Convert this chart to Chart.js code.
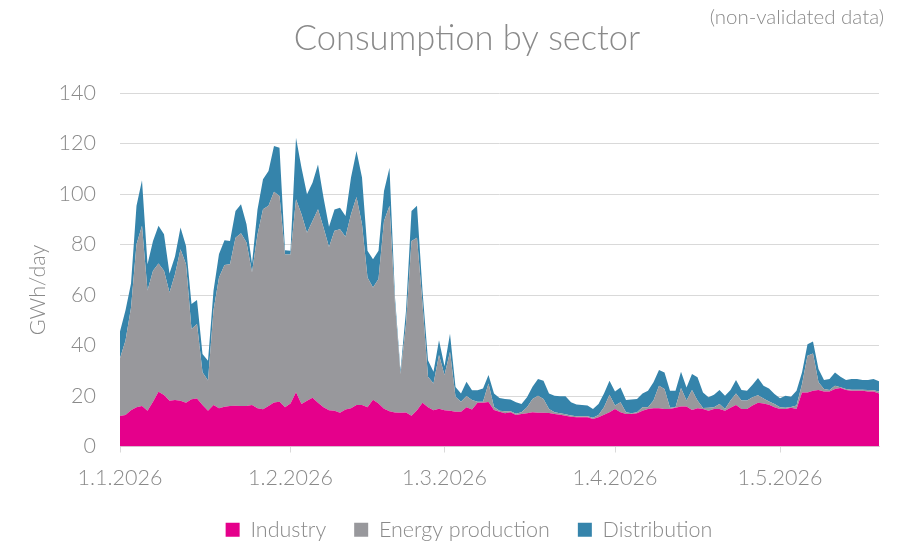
<!DOCTYPE html>
<html lang="en">
<head>
    <meta charset="UTF-8">
    <title>Consumption by sector</title>
    <style>
        html, body { margin: 0; padding: 0; background: #ffffff; }
        #wrap { width: 909px; height: 543px; }
    </style>
    <script src="https://cdn.jsdelivr.net/npm/chart.js"></script>
</head>
<body>
    <div id="wrap"><canvas id="myChart" width="909" height="543"></canvas></div>

    <script>
        // daily values in GWh/day, 1.1.2026 - 19.5.2026
        const industry = [
            12.1, 12.5, 14.4, 15.5, 16.0, 14.2, 17.7, 21.7, 20.4, 18.1,
            18.4, 18.1, 17.3, 18.7, 19.0, 16.4, 14.2, 16.4, 15.1, 15.7,
            16.0, 16.1, 16.0, 16.0, 16.4, 15.1, 14.8, 16.0, 17.4, 17.7,
            15.5, 17.0, 21.5, 16.8, 18.1, 19.3, 17.3, 15.5, 14.4, 14.2,
            13.4, 14.7, 15.1, 16.4, 16.4, 15.5, 18.5, 17.0, 15.0, 14.0,
            13.5, 13.4, 13.5, 12.2, 14.4, 17.3, 15.5, 14.4, 15.0, 14.4,
            14.2, 13.8, 13.8, 15.5, 14.7, 17.3, 17.3, 17.6, 14.5, 13.8,
            13.2, 13.6, 12.5, 12.9, 13.2, 13.6, 13.4, 13.4, 13.3, 12.9,
            12.6, 12.2, 11.8, 11.6, 11.6, 11.6, 10.9, 11.6, 12.6, 13.6,
            14.9, 13.6, 12.9, 12.9, 13.2, 14.2, 14.9, 15.1, 15.1, 14.9,
            14.9, 15.3, 15.8, 15.8, 14.5, 15.1, 14.9, 14.2, 14.9, 14.9,
            14.2, 15.3, 16.4, 14.9, 14.9, 16.2, 17.3, 17.0, 16.5, 15.5,
            14.9, 14.9, 15.3, 14.9, 21.4, 21.4, 22.1, 22.4, 21.8, 21.8,
            22.8, 23.2, 22.4, 22.1, 22.1, 22.1, 21.8, 21.8, 21.0
        ];
        const energyProduction = [
            22.9, 29.5, 40.6, 64.6, 71.4, 47.6, 51.9, 50.8, 49.2, 42.9,
            49.8, 60.0, 54.9, 27.8, 29.5, 13.0, 11.9, 37.6, 51.8, 56.2,
            56.2, 66.6, 68.5, 64.8, 52.6, 68.9, 79.2, 79.3, 83.5, 81.5,
            60.5, 59.0, 76.4, 75.2, 66.6, 70.0, 76.7, 71.2, 64.6, 71.2,
            72.6, 68.4, 76.9, 82.4, 71.6, 51.4, 44.5, 49.3, 74.3, 81.3,
            42.9, 15.3, 35.0, 69.2, 68.3, 39.1, 12.1, 10.6, 21.2, 13.9,
            23.3, 5.9, 3.9, 4.5, 3.7, 0.4, 0.4, 7.4, 1.1, 0.4,
            0.8, 0.4, 0.5, 0.7, 2.3, 5.2, 6.7, 5.4, 1.6, 0.7,
            0.6, 0.6, 0.5, 0.4, 0.4, 0.4, 0.5, 0.9, 2.9, 6.9,
            1.3, 3.9, 0.7, 0.3, 0.4, 1.3, 0.6, 3.1, 9.0, 7.9,
            0.4, 0.2, 7.4, 2.4, 7.9, 3.1, 0.3, 1.1, 0.6, 1.9,
            0.7, 2.9, 4.6, 3.3, 3.3, 3.3, 3.0, 2.0, 1.3, 1.3,
            0.6, 0.4, 0.3, 1.3, 3.3, 14.5, 14.7, 3.0, 1.0, 0.6,
            1.3, 0.3, 0.4, 0.4, 0.4, 0.4, 0.6, 0.5, 0.8
        ];
        const distribution = [
            10.5, 12.0, 9.6, 15.2, 18.0, 10.4, 11.8, 14.9, 14.5, 7.5,
            7.0, 8.6, 7.2, 9.9, 9.5, 7.2, 7.9, 7.7, 9.3, 9.8,
            9.2, 10.6, 11.4, 7.2, 3.5, 9.9, 11.8, 13.8, 18.1, 19.1,
            1.7, 1.5, 24.4, 18.4, 15.2, 15.2, 17.7, 11.9, 8.0, 8.5,
            8.6, 8.2, 14.5, 18.2, 18.5, 10.6, 11.2, 11.2, 11.9, 15.1,
            2.6, 1.3, 5.3, 11.9, 12.6, 5.3, 6.6, 4.6, 5.9, 3.5,
            7.2, 3.9, 3.3, 5.6, 3.9, 4.6, 5.3, 3.3, 5.4, 5.0,
            4.8, 4.6, 4.5, 3.2, 4.0, 4.9, 6.6, 7.2, 6.1, 6.5,
            6.7, 7.1, 5.2, 4.6, 4.4, 4.2, 3.5, 4.3, 5.5, 5.5,
            5.6, 5.9, 4.8, 5.4, 5.2, 5.5, 6.6, 7.2, 6.2, 6.5,
            6.8, 6.6, 6.4, 5.2, 6.3, 9.2, 6.2, 4.2, 5.0, 5.6,
            5.2, 4.2, 5.3, 4.2, 3.9, 5.0, 6.8, 5.1, 5.2, 4.0,
            3.6, 4.8, 4.1, 5.9, 4.6, 4.6, 4.8, 5.3, 3.5, 4.3,
            5.2, 4.1, 3.5, 4.2, 4.2, 3.8, 3.9, 4.4, 4.0
        ];

        const tickLabels = ['1.1.2026', '1.2.2026', '1.3.2026', '1.4.2026', '1.5.2026'];
        const seriesNames = ['Industry', 'Energy production', 'Distribution'];
        const seriesColors = ['#e5008b', '#98989c', '#3584ab'];

        const chartTitle = 'Consumption by sector';
        const noteText = '(non-validated data)';
        const yTitle = 'GWh/day';

        // one label per day starting 1.1.2026
        const labels = [];
        for (let i = 0; i < industry.length; i++) {
            const d = new Date(2026, 0, 1 + i);
            labels.push(d.getDate() + '.' + (d.getMonth() + 1) + '.' + d.getFullYear());
        }

        const textGray = '#8a8a8a';
        const gridGray = '#d9d9d9';
        const baseFont = { family: 'Lato', size: 21.5, weight: '300' };

        // title, note and y axis caption drawn on the canvas
        const headerText = {
            id: 'headerText',
            afterDraw(chart) {
                const ctx = chart.ctx;
                ctx.save();
                ctx.fillStyle = textGray;
                ctx.textBaseline = 'alphabetic';
                ctx.font = '300 34.5px Lato';
                ctx.textAlign = 'center';
                ctx.fillText(chartTitle, 467, 50);
                ctx.font = '300 20.5px Lato';
                ctx.textAlign = 'right';
                ctx.fillText(noteText, 884, 24);
                ctx.translate(38, 290);
                ctx.rotate(-Math.PI / 2);
                ctx.font = '300 21.5px Lato';
                ctx.textAlign = 'center';
                ctx.textBaseline = 'middle';
                ctx.fillText(yTitle, 0, 0);
                ctx.restore();
            }
        };

        const datasets = [industry, energyProduction, distribution].map((values, i) => ({
            label: seriesNames[i],
            data: values,
            backgroundColor: seriesColors[i],
            borderColor: seriesColors[i],
            borderWidth: 0,
            pointRadius: 0,
            fill: i === 0 ? 'origin' : '-1',
            tension: 0
        }));

        const ctx = document.getElementById('myChart').getContext('2d');
        const myChart = new Chart(ctx, {
            type: 'line',
            data: { labels: labels, datasets: datasets },
            plugins: [headerText],
            options: {
                responsive: false,
                animation: false,
                layout: { padding: { top: 93, left: 59, right: 30, bottom: -7.5 } },
                plugins: {
                    title: { display: false },
                    tooltip: { enabled: false },
                    legend: {
                        position: 'bottom',
                        labels: {
                            boxWidth: 14,
                            boxHeight: 14,
                            padding: 28,
                            color: textGray,
                            font: baseFont
                        }
                    }
                },
                scales: {
                    x: {
                        ticks: {
                            autoSkip: false,
                            maxRotation: 0,
                            padding: 13,
                            color: textGray,
                            font: baseFont,
                            callback: function (value, index) {
                                const l = labels[index];
                                return tickLabels.includes(l) ? l : null;
                            }
                        },
                        grid: { drawOnChartArea: false, drawTicks: true, tickLength: 6, color: gridGray },
                        border: { color: gridGray },
                        afterFit: function (scale) { scale.height = 44.5; }
                    },
                    y: {
                        stacked: true,
                        min: 0,
                        max: 140,
                        ticks: { stepSize: 20, padding: 24, color: textGray, font: baseFont },
                        grid: { color: gridGray, drawTicks: false },
                        border: { display: false },
                        afterFit: function (scale) { scale.width = 61; }
                    }
                }
            }
        });
    </script>
</body>
</html>
